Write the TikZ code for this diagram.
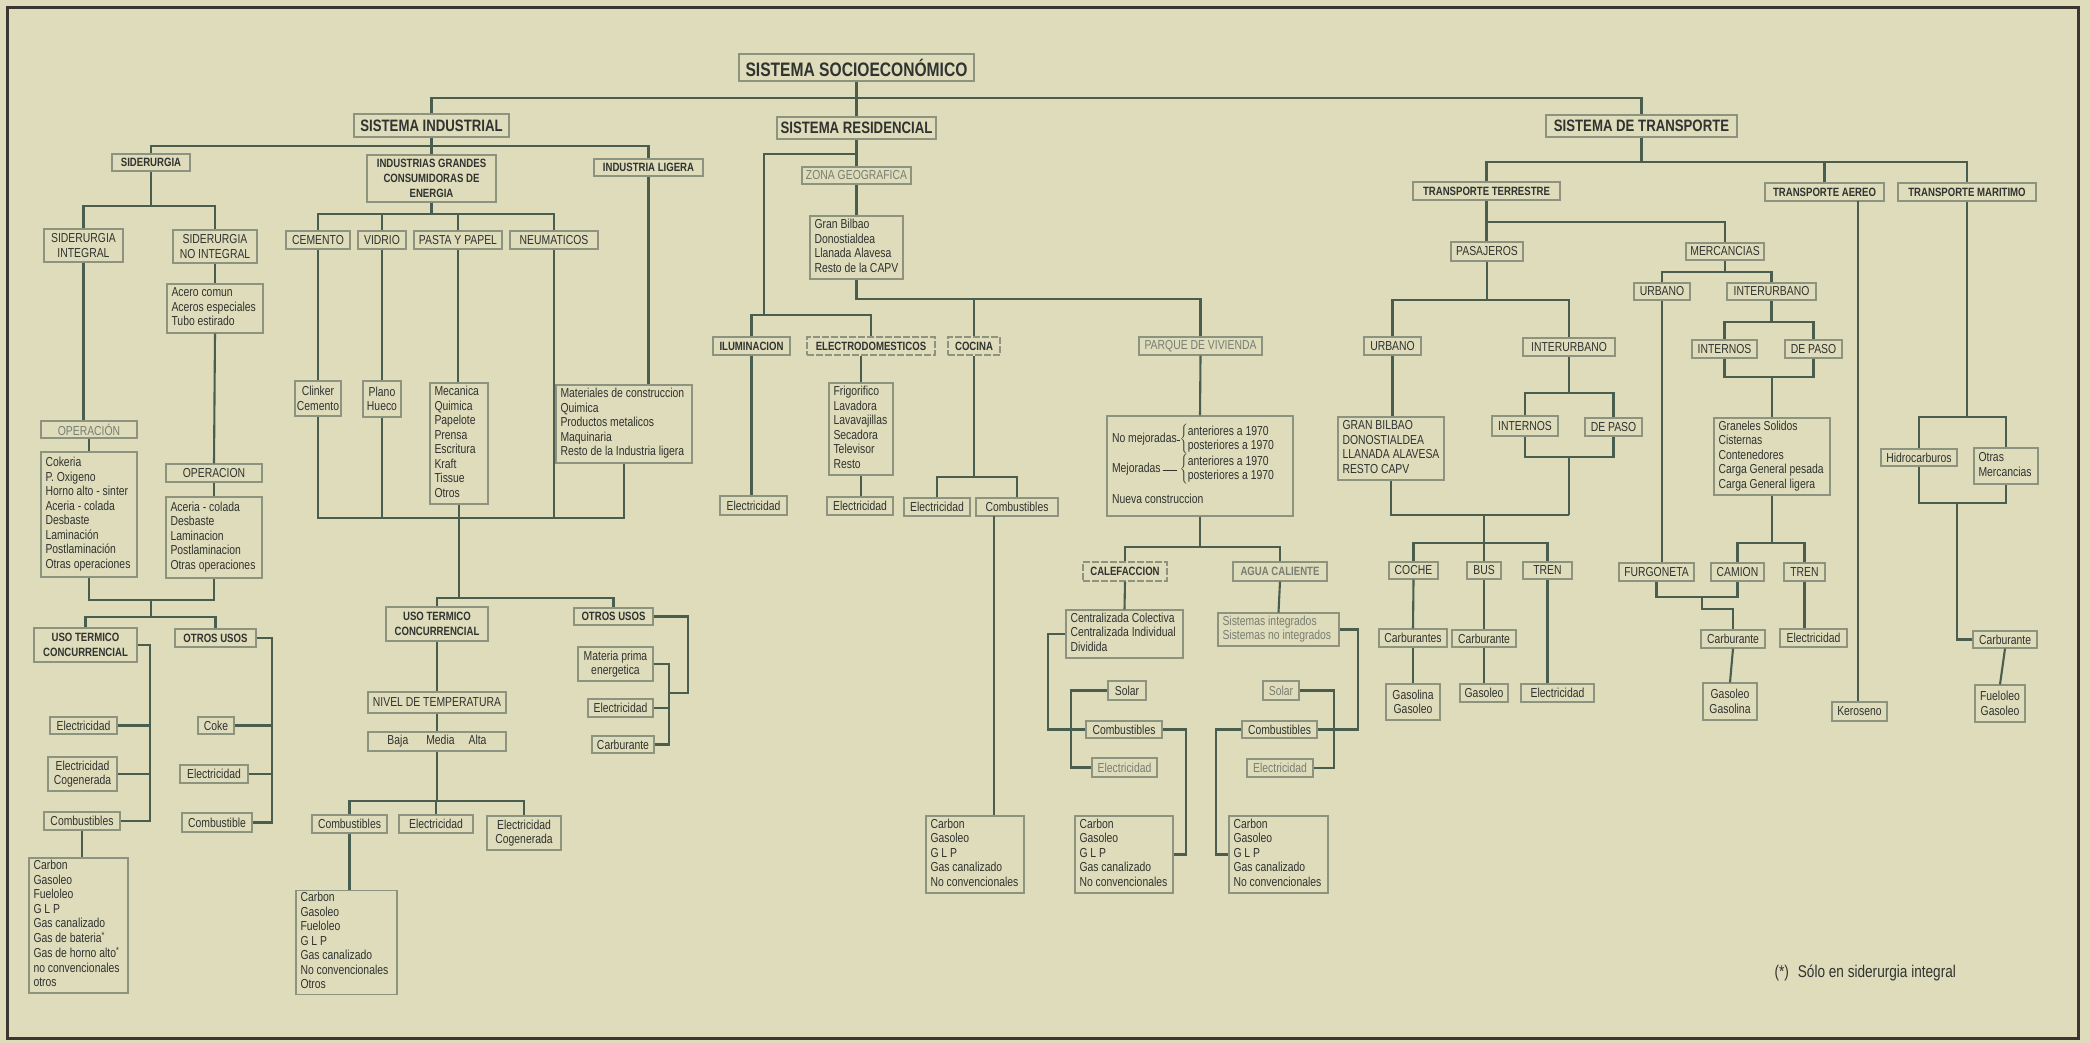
\documentclass[tikz,border=0pt]{standalone}
\usepackage{fontspec}
\setmainfont{Liberation Sans}[FakeStretch=0.8]
\definecolor{bgc}{RGB}{222,220,187}
\definecolor{lnc}{RGB}{74,94,80}
\definecolor{boxc}{RGB}{140,148,128}
\definecolor{txt}{RGB}{48,51,48}
\definecolor{lt}{RGB}{120,126,114}
\definecolor{frm}{RGB}{58,54,50}
\newcommand\Bx[7]{\node[#1,minimum width={#5-#3},minimum height={#6-#4}] (#2) at ({(#3+#5)/2},{(#4+#6)/2}) {#7};}
\newcommand\Lx[7]{\pgfmathsetmacro\mytw{#5-#3-9}\node[#1,minimum width={#5-#3},minimum height={#6-#4},inner xsep=0pt] (#2) at ({(#3+#5)/2},{(#4+#6)/2}) {\makebox[\mytw pt][l]{\begin{tabular}{@{}l@{}}#7\end{tabular}}};}
\tikzset{
 bx/.style={draw=boxc, line width=1.1pt, text=txt, inner sep=1pt, align=center, font=\fontsize{13}{14.5}\selectfont},
 lgt/.style={bx, text=lt},
 hd/.style={bx, font=\fontsize{12}{15}\selectfont\bfseries},
 sys/.style={bx, font=\fontsize{16.5}{18}\selectfont\bfseries},
 topbox/.style={bx, line width=1.3pt, font=\fontsize{19.5}{21}\selectfont\bfseries},
 dsh/.style={dash pattern=on 7pt off 2pt},
 ln/.style={draw=lnc, line width=2.1pt},
}
\begin{document}
\begin{tikzpicture}[x=1pt,y=-1pt]
\useasboundingbox (0,0) rectangle (2090,1043);
\fill[bgc] (0,0) rectangle (2090,1043);
\draw[draw=frm, line width=3pt] (7,8) rectangle (2078,1038);

% ---------- top level
\Bx{topbox}{soc}{739}{54}{974}{81}{SISTEMA SOCIOECONÓMICO}
\Bx{sys}{ind}{354}{114}{509}{137}{SISTEMA INDUSTRIAL}
\Bx{sys}{res}{777}{117}{936}{139}{SISTEMA RESIDENCIAL}
\Bx{sys}{tra}{1546}{115}{1737}{137}{SISTEMA DE TRANSPORTE}

% ---------- industrial
\Bx{hd}{sid}{112}{154}{190}{171}{SIDERURGIA}
\Bx{hd}{igc}{367}{155}{496}{202}{INDUSTRIAS GRANDES\\CONSUMIDORAS DE\\ENERGIA}
\Bx{hd}{lig}{594}{159}{703}{176}{INDUSTRIA LIGERA}
\Bx{bx}{sint}{44}{229}{123}{262}{SIDERURGIA\\INTEGRAL}
\Bx{bx}{snoi}{173}{230}{257}{263}{SIDERURGIA\\NO INTEGRAL}
\Lx{bx}{acero}{167}{284}{263}{333}{Acero comun\\Aceros especiales\\Tubo estirado}
\Bx{lgt}{opi}{41}{421}{137}{438}{OPERACIÓN}
\Lx{bx}{opil}{41}{452}{137}{577}{Cokeria\\P. Oxigeno\\Horno alto - sinter\\Aceria - colada\\Desbaste\\Laminación\\Postlaminación\\Otras operaciones}
\Bx{bx}{opn}{166}{464}{262}{482}{OPERACION}
\Lx{bx}{opnl}{166}{497}{262}{578}{Aceria - colada\\Desbaste\\Laminacion\\Postlaminacion\\Otras operaciones}
\Bx{hd}{utc1}{34}{628}{137}{662}{USO TERMICO\\CONCURRENCIAL}
\Bx{hd}{otr1}{175}{629}{256}{647}{OTROS USOS}
\Bx{bx}{e1}{50}{717}{117}{734}{Electricidad}
\Bx{bx}{ec1}{48}{757}{117}{791}{Electricidad\\Cogenerada}
\Bx{bx}{cb1}{44}{812}{120}{830}{Combustibles}
\Lx{bx}{cl1}{29}{858}{128}{993}{Carbon\\Gasoleo\\Fueloleo\\G L P\\Gas canalizado\\Gas de bateria\textsuperscript{*}\\Gas de horno alto\textsuperscript{*}\\no convencionales\\otros}
\Bx{bx}{coke}{198}{717}{234}{734}{Coke}
\Bx{bx}{e2}{180}{765}{248}{783}{Electricidad}
\Bx{bx}{cb2}{182}{813}{252}{832}{Combustible}

\Bx{bx}{cem}{286}{231}{350}{249}{CEMENTO}
\Bx{bx}{vid}{358}{231}{406}{249}{VIDRIO}
\Bx{bx}{pas}{414}{231}{502}{249}{PASTA Y PAPEL}
\Bx{bx}{neu}{510}{231}{598}{249}{NEUMATICOS}
\Bx{bx}{clk}{295}{381}{341}{416}{Clinker\\Cemento}
\Bx{bx}{pla}{363}{381}{401}{417}{Plano\\Hueco}
\Lx{bx}{mec}{430}{383}{488}{504}{Mecanica\\Quimica\\Papelote\\Prensa\\Escritura\\Kraft\\Tissue\\Otros}
\Lx{bx}{mat}{556}{385}{692}{463}{Materiales de construccion\\Quimica\\Productos metalicos\\Maquinaria\\Resto de la Industria ligera}
\Bx{hd}{utc2}{386}{607}{488}{641}{USO TERMICO\\CONCURRENCIAL}
\Bx{hd}{otr2}{574}{608}{653}{625}{OTROS USOS}
\Bx{bx}{niv}{368}{692}{506}{713}{NIVEL DE TEMPERATURA}
\Bx{bx}{bma}{368}{732}{506}{751}{Baja\hspace{18pt}Media\hspace{14pt}Alta}
\Bx{bx}{cb3}{312}{815}{387}{833}{Combustibles}
\Bx{bx}{e3}{399}{815}{473}{833}{Electricidad}
\Bx{bx}{ec3}{487}{816}{561}{850}{Electricidad\\Cogenerada}
\Lx{bx}{cl3}{296}{891}{397}{994}{Carbon\\Gasoleo\\Fueloleo\\G L P\\Gas canalizado\\No convencionales\\Otros}
\Bx{bx}{mp}{578}{647}{653}{681}{Materia prima\\energetica}
\Bx{bx}{e4}{588}{699}{653}{717}{Electricidad}
\Bx{bx}{car4}{592}{736}{654}{753}{Carburante}

% ---------- residential
\Bx{lgt}{zona}{802}{167}{911}{184}{ZONA GEOGRAFICA}
\Lx{bx}{gb}{810}{216}{903}{279}{Gran Bilbao\\Donostialdea\\Llanada Alavesa\\Resto de la CAPV}
\Bx{hd}{ilu}{713}{337}{790}{355}{ILUMINACION}
\Bx{hd,dsh}{ele}{807}{337}{935}{355}{ELECTRODOMESTICOS}
\Bx{hd,dsh}{coc}{948}{337}{1000}{355}{COCINA}
\Bx{lgt}{par}{1139}{337}{1262}{355}{PARQUE DE VIVIENDA}
\Bx{bx}{e5}{720}{496}{787}{515}{Electricidad}
\Lx{bx}{fri}{829}{383}{893}{475}{Frigorifico\\Lavadora\\Lavavajillas\\Secadora\\Televisor\\Resto}
\Bx{bx}{e6}{827}{497}{893}{515}{Electricidad}
\Bx{bx}{e7}{904}{498}{970}{516}{Electricidad}
\Bx{bx}{cb7}{976}{498}{1058}{516}{Combustibles}
\Lx{bx}{cl7}{926}{816}{1024}{893}{Carbon\\Gasoleo\\G L P\\Gas canalizado\\No convencionales}
\Bx{bx}{parb}{1107}{416}{1293}{516}{\makebox[176pt][l]{\begin{tabular}{@{}l@{}l@{}}
No mejoradas\rule[0.3ex]{3pt}{0.8pt} & $\left\{\begin{tabular}{@{}l@{}}anteriores a 1970\\posteriores a 1970\end{tabular}\right.$\\[7pt]
Mejoradas\,\rule[0.3ex]{14pt}{0.8pt} & $\left\{\begin{tabular}{@{}l@{}}anteriores a 1970\\posteriores a 1970\end{tabular}\right.$\\[16pt]
\multicolumn{2}{@{}l@{}}{Nueva construccion}
\end{tabular}}}
\Bx{hd,dsh}{cal}{1083}{562}{1167}{581}{CALEFACCION}
\Bx{hd,text=lt}{agu}{1233}{562}{1327}{581}{AGUA CALIENTE}
\Lx{bx}{cen}{1066}{610}{1183}{658}{Centralizada Colectiva\\Centralizada Individual\\Dividida}
\Lx{lgt}{sis}{1218}{613}{1339}{646}{Sistemas integrados\\Sistemas no integrados}
\Bx{bx}{sol1}{1108}{681}{1146}{700}{Solar}
\Bx{bx}{cbA}{1086}{721}{1162}{738}{Combustibles}
\Bx{lgt}{elA}{1092}{758}{1157}{777}{Electricidad}
\Lx{bx}{clA}{1075}{816}{1173}{893}{Carbon\\Gasoleo\\G L P\\Gas canalizado\\No convencionales}
\Bx{lgt}{sol2}{1263}{681}{1299}{700}{Solar}
\Bx{bx}{cbB}{1242}{721}{1317}{738}{Combustibles}
\Bx{lgt}{elB}{1247}{759}{1313}{777}{Electricidad}
\Lx{bx}{clB}{1229}{816}{1328}{893}{Carbon\\Gasoleo\\G L P\\Gas canalizado\\No convencionales}

% ---------- transport
\Bx{hd}{tte}{1413}{182}{1560}{200}{TRANSPORTE TERRESTRE}
\Bx{hd}{tae}{1765}{183}{1884}{201}{TRANSPORTE AEREO}
\Bx{hd}{tma}{1898}{183}{2036}{201}{TRANSPORTE MARITIMO}
\Bx{bx}{pasj}{1451}{242}{1523}{261}{PASAJEROS}
\Bx{bx}{merc}{1686}{243}{1764}{260}{MERCANCIAS}
\Bx{bx}{urb1}{1364}{337}{1421}{355}{URBANO}
\Bx{bx}{int1}{1523}{338}{1615}{356}{INTERURBANO}
\Bx{bx}{urb2}{1634}{283}{1690}{300}{URBANO}
\Bx{bx}{int2}{1727}{283}{1816}{300}{INTERURBANO}
\Bx{bx}{in2}{1692}{340}{1757}{358}{INTERNOS}
\Bx{bx}{dp2}{1785}{340}{1842}{358}{DE PASO}
\Lx{bx}{gbu}{1338}{417}{1444}{480}{GRAN BILBAO\\DONOSTIALDEA\\LLANADA ALAVESA\\RESTO CAPV}
\Bx{bx}{in1}{1492}{416}{1558}{436}{INTERNOS}
\Bx{bx}{dp1}{1585}{418}{1642}{436}{DE PASO}
\Bx{bx}{coche}{1389}{562}{1438}{579}{COCHE}
\Bx{bx}{bus}{1467}{562}{1501}{579}{BUS}
\Bx{bx}{tren1}{1523}{562}{1572}{579}{TREN}
\Bx{bx}{cars}{1379}{629}{1447}{647}{Carburantes}
\Bx{bx}{carb}{1452}{630}{1516}{647}{Carburante}
\Bx{bx}{gg1}{1386}{684}{1440}{720}{Gasolina\\Gasoleo}
\Bx{bx}{gas1}{1460}{684}{1508}{702}{Gasoleo}
\Bx{bx}{el1}{1521}{684}{1594}{702}{Electricidad}
\Lx{bx}{gra}{1714}{418}{1830}{495}{Graneles Solidos\\Cisternas\\Contenedores\\Carga General pesada\\Carga General ligera}
\Bx{bx}{furg}{1619}{563}{1694}{581}{FURGONETA}
\Bx{bx}{cam}{1711}{563}{1764}{581}{CAMION}
\Bx{bx}{tren2}{1784}{563}{1825}{581}{TREN}
\Bx{bx}{carm}{1701}{630}{1765}{648}{Carburante}
\Bx{bx}{elm}{1780}{629}{1847}{647}{Electricidad}
\Bx{bx}{gg2}{1703}{683}{1757}{720}{Gasoleo\\Gasolina}
\Bx{bx}{ker}{1832}{702}{1887}{721}{Keroseno}
\Bx{bx}{hid}{1881}{449}{1957}{466}{Hidrocarburos}
\Lx{bx}{om}{1974}{448}{2038}{484}{Otras\\Mercancias}
\Bx{bx}{carma}{1973}{631}{2037}{648}{Carburante}
\Bx{bx}{fg}{1975}{685}{2025}{722}{Fueloleo\\Gasoleo}

\node[text=txt, font=\fontsize{17}{20}\selectfont, anchor=west] (note) at (1771,973) {(*)\hspace{9pt}Sólo en siderurgia integral};

% ---------- connectors: top
\coordinate (b0) at (856.5,98);
\draw[ln] (soc.south) -- (res.north);
\draw[ln] (ind.north) |- (b0) -| (tra.north);
% industrial
\coordinate (b1) at (431.5,146);
\draw[ln] (ind.south) -- (igc.north);
\draw[ln] (sid.north) |- (b1) -| (lig.north);
\coordinate (b2) at (151,206);
\draw[ln] (sid.south) -- (b2);
\draw[ln] (sint.north) |- (b2) -| (snoi.north);
\coordinate (b3) at (431.5,214);
\draw[ln] (igc.south) -- (b3);
\draw[ln] (cem.north) |- (b3) -| (neu.north);
\draw[ln] (vid.north) -- (vid.north |- b3);
\draw[ln] (pas.north) -- (pas.north |- b3);
\draw[ln] (sint.south) -- (sint.south |- opi.north);
\draw[ln] (opi.south) -- (opil.north);
\draw[ln] (snoi.south) -- (acero.north);
\draw[ln] (acero.south) -- (opn.north);
\draw[ln] (opn.south) -- (opnl.north);
\coordinate (b4) at (151,600);
\coordinate (b5) at (151,617);
\draw[ln] (opil.south) |- (b4) -| (opnl.south);
\draw[ln] (b4) -- (b5);
\draw[ln] (utc1.north) |- (b5) -| (otr1.north);
\coordinate (k1) at (150,821);
\draw[ln] (utc1.east) -| (k1) -- (cb1.east);
\draw[ln] (e1.east) -- (e1.east -| k1);
\draw[ln] (ec1.east) -- (ec1.east -| k1);
\draw[ln] (cb1.south) -- (cb1.south |- cl1.north);
\coordinate (k2) at (272,822.5);
\draw[ln] (otr1.east) -| (k2) -- (cb2.east);
\draw[ln] (coke.east) -- (coke.east -| k2);
\draw[ln] (e2.east) -- (e2.east -| k2);
\draw[ln] (cem.south) -- (clk.north);
\draw[ln] (vid.south) -- (pla.north);
\draw[ln] (pas.south) -- (pas.south |- mec.north);
\coordinate (b6) at (459,518);
\draw[ln] (clk.south) |- (b6);
\draw[ln] (pla.south) -- (pla.south |- b6);
\draw[ln] (neu.south) -- (neu.south |- b6);
\draw[ln] (lig.south) -- (lig.south |- mat.north);
\draw[ln] (mat.south) |- (b6);
\coordinate (b7) at (459,598);
\draw[ln] (mec.south) -- (b7);
\draw[ln] (utc2.north) |- (b7) -| (otr2.north);
\draw[ln] (utc2.south) -- (niv.north);
\draw[ln] (niv.south) -- (bma.north);
\coordinate (b8) at (437,801);
\draw[ln] (bma.south) -- (b8);
\draw[ln] (cb3.north) |- (b8) -| (ec3.north);
\draw[ln] (e3.north) -- (e3.north |- b8);
\draw[ln] (cb3.south) -- (cb3.south |- cl3.north);
\coordinate (k3) at (688,693);
\coordinate (k3b) at (669,693);
\draw[ln] (otr2.east) -| (k3) -- (k3b);
\coordinate (k4) at (669,744.5);
\draw[ln] (mp.east) -| (k4) -- (car4.east);
\draw[ln] (e4.east) -- (e4.east -| k4);
% residential
\coordinate (b9) at (856.5,154);
\coordinate (b10) at (764,315);
\draw[ln] (res.south) -- (zona.north);
\draw[ln] (b9) -| (b10);
\draw[ln] (ilu.north) |- (b10) -| (ele.north);
\draw[ln] (zona.south) -- (gb.north);
\coordinate (b11) at (974,299);
\draw[ln] (gb.south) |- (b11) -| (par.north);
\draw[ln] (b11) -- (coc.north);
\draw[ln] (ilu.south) -- (ilu.south |- e5.north);
\draw[ln] (fri.north) -- (fri.north |- ele.south);
\draw[ln] (fri.south) -- (fri.south |- e6.north);
\coordinate (b12) at (974,477);
\draw[ln] (coc.south) -- (b12);
\draw[ln] (e7.north) |- (b12) -| (cb7.north);
\coordinate (k5) at (994,516);
\draw[ln] (k5) -- (k5 |- cl7.north);
\draw[ln] (par.south) -- (parb.north);
\coordinate (b13) at (1200,547);
\draw[ln] (parb.south) -- (b13);
\draw[ln] (cal.north) |- (b13) -| (agu.north);
\draw[ln] (cal.south) -- (cen.north);
\draw[ln] (agu.south) -- (sis.north);
\coordinate (k6) at (1048,729.5);
\draw[ln] (cen.west) -| (k6) -- (cbA.west);
\coordinate (k7) at (1071,767.5);
\draw[ln] (sol1.west) -| (k7) -- (elA.west);
\coordinate (k8) at (1186,854.5);
\draw[ln] (cbA.east) -| (k8) -- (clA.east);
\coordinate (k9) at (1358,729.5);
\draw[ln] (sis.east) -| (k9) -- (cbB.east);
\coordinate (k10) at (1334,768);
\draw[ln] (sol2.east) -| (k10) -- (elB.east);
\coordinate (k11) at (1216,854.5);
\draw[ln] (cbB.west) -| (k11) -- (clB.west);
% transport
\coordinate (b14) at (1641.5,162);
\draw[ln] (tra.south) -- (b14);
\draw[ln] (tte.north) |- (b14) -| (tma.north);
\draw[ln] (tae.north) -- (tae.north |- b14);
\coordinate (b15) at (1486.5,222);
\draw[ln] (tte.south) -- (tte.south |- pasj.north);
\draw[ln] (b15) -| (merc.north);
\coordinate (b16) at (1487,300);
\draw[ln] (pasj.south) -- (b16);
\draw[ln] (urb1.north) |- (b16) -| (int1.north);
\draw[ln] (urb1.south) -- (urb1.south |- gbu.north);
\coordinate (b17) at (1569,393);
\draw[ln] (int1.south) -- (b17);
\draw[ln] (in1.north) |- (b17) -| (dp1.north);
\coordinate (b18) at (1569,457);
\coordinate (b19) at (1569,515);
\draw[ln] (in1.south) |- (b18) -| (dp1.south);
\draw[ln] (b18) -- (b19);
\draw[ln] (gbu.south) |- (b19);
\coordinate (b20) at (1484,515);
\coordinate (b21) at (1484,543);
\draw[ln] (b20) -- (b21);
\draw[ln] (coche.north) |- (b21) -| (tren1.north);
\draw[ln] (bus.north) -- (b21);
\draw[ln] (coche.south) -- (cars.north);
\draw[ln] (cars.south) -- (gg1.north);
\draw[ln] (bus.south) -- (carb.north);
\draw[ln] (carb.south) -- (gas1.north);
\draw[ln] (tren1.south) -- (tren1.south |- el1.north);
\coordinate (b22) at (1725,272);
\draw[ln] (merc.south) -- (b22);
\draw[ln] (urb2.north) |- (b22) -| (int2.north);
\coordinate (b23) at (1771.5,322);
\draw[ln] (int2.south) -- (b23);
\draw[ln] (in2.north) |- (b23) -| (dp2.north);
\coordinate (b24) at (1772,377);
\draw[ln] (in2.south) |- (b24) -| (dp2.south);
\draw[ln] (b24) -- (gra.north);
\coordinate (b25) at (1772,543);
\draw[ln] (gra.south) -- (b25);
\draw[ln] (cam.north) |- (b25) -| (tren2.north);
\draw[ln] (urb2.south) -- (urb2.south |- furg.north);
\coordinate (b26) at (1702,597);
\coordinate (b27) at (1702,609);
\draw[ln] (furg.south) |- (b26) -| (cam.south);
\draw[ln] (b26) -- (b27) -| (carm.north);
\draw[ln] (carm.south) -- (gg2.north);
\draw[ln] (tren2.south) -- (tren2.south |- elm.north);
\coordinate (k12) at (1858,201);
\draw[ln] (k12) -- (k12 |- ker.north);
\coordinate (b28) at (1967,417);
\draw[ln] (tma.south) -- (b28);
\draw[ln] (hid.north) |- (b28) -| (om.north);
\coordinate (b29) at (1957,503);
\draw[ln] (hid.south) |- (b29) -| (om.south);
\draw[ln] (b29) |- (carma.west);
\draw[ln] (carma.south) -- (fg.north);
\end{tikzpicture}
\end{document}
